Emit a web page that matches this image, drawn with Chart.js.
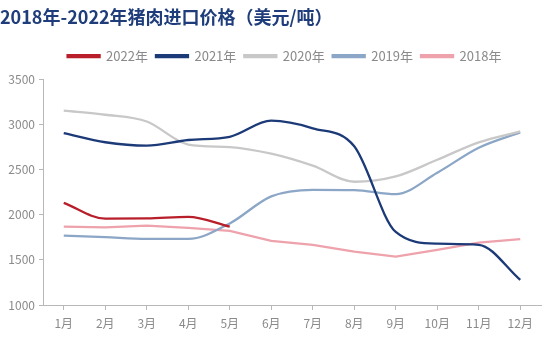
<html><head>
<meta charset="utf-8">
<title>猪肉进口价格</title>
<style>
  body { margin: 0; background: #fff; }
  #wrap { width: 559px; height: 345px; }
</style>
<script src="https://cdn.jsdelivr.net/npm/chart.js"></script>
</head>
<body>
<div id="wrap"><canvas id="c" width="559" height="345"></canvas></div>
<script>
// data
const months = ['1月', '2月', '3月', '4月', '5月', '6月', '7月', '8月', '9月', '10月', '11月', '12月'];
const y2022 = [2133, 1958, 1960, 1978, 1868];
const y2021 = [2905, 2805, 2767, 2830, 2866, 3044, 2960, 2760, 1810, 1680, 1668, 1278];
const y2020 = [3155, 3110, 3035, 2780, 2752, 2678, 2545, 2367, 2426, 2611, 2804, 2926];
const y2019 = [1770, 1752, 1733, 1733, 1905, 2205, 2278, 2275, 2230, 2467, 2744, 2915];
const y2018 = [1870, 1860, 1880, 1855, 1822, 1711, 1667, 1592, 1537, 1611, 1692, 1730];
const yTicks = [1000, 1500, 2000, 2500, 3000, 3500];

const font = "'Noto Sans CJK SC', 'Noto Sans', sans-serif";

function series(label, data, color, smooth) {
  return {
    label: label,
    data: data,
    borderColor: color,
    backgroundColor: color,
    borderWidth: 2.3,
    pointRadius: 0,
    fill: false,
    tension: smooth ? 0.4 : 0,
    cubicInterpolationMode: smooth ? 'monotone' : 'default'
  };
}

// a little extra room under the legend, and nudge it right like the original
const legendGap = {
  id: 'legendGap',
  afterInit(chart) {
    const lg = chart.legend;
    const fit = lg.fit.bind(lg);
    lg.fit = function () { fit(); this.height += 7; };
    const draw = lg.draw.bind(lg);
    lg.draw = function () {
      const ctx = chart.ctx;
      ctx.save();
      ctx.translate(14, 0);
      draw();
      ctx.restore();
    };
  }
};

new Chart(document.getElementById('c'), {
  type: 'line',
  data: {
    labels: months,
    datasets: [
      series('2022年', y2022, '#b81f2a', true),
      series('2021年', y2021, '#1c3a78', true),
      series('2020年', y2020, '#c8c8c8', true),
      series('2019年', y2019, '#8ba6c6', true),
      series('2018年', y2018, '#eea2ac', false)
    ]
  },
  plugins: [legendGap],
  options: {
    responsive: false,
    animation: false,
    layout: { padding: { left: 0, right: 18, top: 0, bottom: 10 } },
    plugins: {
      title: {
        display: true,
        text: '2018年-2022年猪肉进口价格（美元/吨）',
        align: 'start',
        color: '#1e3d7a',
        font: { family: font, size: 18, weight: 'bold' },
        padding: { top: 6, bottom: 14 }
      },
      legend: {
        labels: {
          boxWidth: 32,
          boxHeight: 2,
          padding: 8,
          color: '#8a8a8a',
          font: { family: font, size: 13 }
        }
      },
      tooltip: { enabled: false }
    },
    scales: {
      x: {
        offset: true,
        grid: { display: true, drawOnChartArea: false, tickLength: 5, color: '#b8b8b8' },
        border: { color: '#b8b8b8' },
        ticks: { color: '#8a8a8a', padding: 6, maxRotation: 0, font: { family: font, size: 12 } },
        afterFit: s => { s.height = 30; }
      },
      y: {
        min: 1000,
        max: 3500,
        afterBuildTicks: s => { s.ticks = yTicks.map(v => ({ value: v })); },
        grid: { display: true, drawOnChartArea: false, tickLength: 4, color: '#b8b8b8' },
        border: { color: '#b8b8b8' },
        ticks: { color: '#8a8a8a', padding: 4, font: { family: font, size: 12 }, callback: v => String(v) },
        afterFit: s => { s.width = 43; }
      }
    }
  }
});
</script>
</body></html>
